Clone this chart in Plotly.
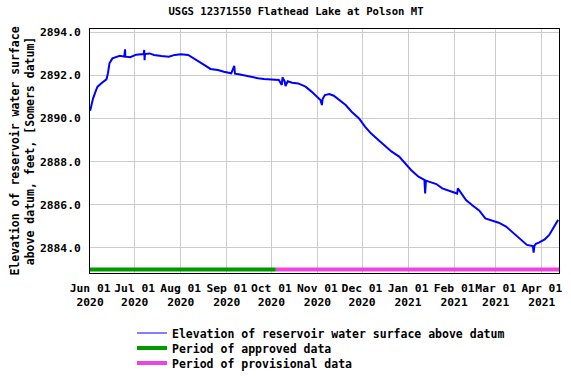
import plotly.graph_objects as go

# ---- data ----
dates = [
    "2020-06-01", "2020-06-03", "2020-06-05", "2020-06-06", "2020-06-09",
    "2020-06-12", "2020-06-13", "2020-06-14", "2020-06-16", "2020-06-19",
    "2020-06-21", "2020-06-24", "2020-06-24T12:00", "2020-06-24T18:00",
    "2020-06-28", "2020-07-02", "2020-07-07", "2020-07-07T10:00",
    "2020-07-07T16:00", "2020-07-07T22:00", "2020-07-11", "2020-07-14",
    "2020-07-19", "2020-07-24", "2020-07-28", "2020-08-01", "2020-08-06",
    "2020-08-10", "2020-08-13", "2020-08-15", "2020-08-17", "2020-08-21",
    "2020-08-26", "2020-08-30", "2020-09-04", "2020-09-06", "2020-09-06T12:00",
    "2020-09-09", "2020-09-13", "2020-09-18", "2020-09-22", "2020-09-26",
    "2020-10-01", "2020-10-06", "2020-10-08", "2020-10-08T12:00",
    "2020-10-10", "2020-10-10T12:00", "2020-10-12", "2020-10-15",
    "2020-10-19", "2020-10-24", "2020-10-28", "2020-11-01", "2020-11-03",
    "2020-11-04", "2020-11-04T12:00", "2020-11-06", "2020-11-09",
    "2020-11-12", "2020-11-15", "2020-11-20", "2020-11-24", "2020-11-29",
    "2020-12-03", "2020-12-07", "2020-12-12", "2020-12-17", "2020-12-21",
    "2020-12-26", "2020-12-30", "2021-01-03", "2021-01-08", "2021-01-12",
    "2021-01-12T12:00", "2021-01-13", "2021-01-15", "2021-01-20",
    "2021-01-24", "2021-01-28", "2021-02-02", "2021-02-03",
    "2021-02-03T12:00", "2021-02-06", "2021-02-09", "2021-02-13",
    "2021-02-18", "2021-02-22", "2021-02-27", "2021-03-03", "2021-03-08",
    "2021-03-12", "2021-03-17", "2021-03-22", "2021-03-26",
    "2021-03-26T12:00", "2021-03-27", "2021-03-28", "2021-03-30",
    "2021-04-03", "2021-04-06", "2021-04-08", "2021-04-11", "2021-04-12",
]
elevation = [
    2890.35, 2890.93, 2891.31, 2891.47, 2891.65,
    2891.81, 2892.09, 2892.55, 2892.78, 2892.86,
    2892.90, 2892.86, 2893.20, 2892.86,
    2892.83, 2892.95, 2892.98, 2893.17,
    2892.70, 2892.98, 2893.01, 2892.94,
    2892.89, 2892.86, 2892.94, 2892.97, 2892.94,
    2892.78, 2892.66, 2892.58, 2892.47, 2892.29,
    2892.24, 2892.16, 2892.09, 2892.43, 2892.07,
    2892.04, 2891.98, 2891.90, 2891.86, 2891.82,
    2891.81, 2891.78, 2891.55, 2891.90,
    2891.70, 2891.50, 2891.72, 2891.65,
    2891.62, 2891.47, 2891.24, 2891.00, 2890.85,
    2890.62, 2890.90, 2891.08, 2891.13,
    2891.05, 2890.88, 2890.62, 2890.31, 2890.00,
    2889.62, 2889.31, 2889.00, 2888.72, 2888.46,
    2888.23, 2887.92, 2887.61, 2887.30, 2887.15,
    2886.53, 2887.12, 2887.07, 2886.96,
    2886.76, 2886.65, 2886.53, 2886.52,
    2886.76, 2886.49, 2886.22, 2885.99,
    2885.73, 2885.37, 2885.25, 2885.17, 2884.99,
    2884.75, 2884.45, 2884.14, 2884.09,
    2883.78, 2884.10, 2884.19, 2884.25,
    2884.40, 2884.60, 2884.83, 2885.14, 2885.30,
]

approved_dates = ["2020-05-31T22:00", "2020-10-04"]
provisional_dates = ["2020-10-04", "2021-04-12T14:00"]
period_level = 2883.0

tick_dates = ["2020-06-01", "2020-07-01", "2020-08-01", "2020-09-01",
              "2020-10-01", "2020-11-01", "2020-12-01", "2021-01-01",
              "2021-02-01", "2021-03-01", "2021-04-01"]
tick_labels = ["Jun 01<br>2020", "Jul 01<br>2020", "Aug 01<br>2020",
               "Sep 01<br>2020", "Oct 01<br>2020", "Nov 01<br>2020",
               "Dec 01<br>2020", "Jan 01<br>2021", "Feb 01<br>2021",
               "Mar 01<br>2021", "Apr 01<br>2021"]
y_ticks = [2884, 2886, 2888, 2890, 2892, 2894]

FONT = "DejaVu Sans Mono"
W, H = 571, 376
L, R, T, B = 90, 12, 29, 103
PW, PH = W - L - R, H - T - B

fig = go.Figure()
fig.add_trace(go.Scatter(
    x=dates, y=elevation, mode="lines",
    line=dict(color="#0000ff", width=2),
    showlegend=False, hoverinfo="x+y",
))
fig.add_trace(go.Scatter(
    x=[None], y=[None], mode="lines",
    line=dict(color="#0000ff", width=1),
    name="Elevation of reservoir water surface above datum",
    legend="legend",
))
fig.add_trace(go.Scatter(
    x=approved_dates, y=[period_level] * len(approved_dates), mode="lines",
    line=dict(color="#009900", width=4),
    name="Period of approved data", legend="legend2",
))
fig.add_trace(go.Scatter(
    x=provisional_dates, y=[period_level] * len(provisional_dates), mode="lines",
    line=dict(color="#ee44dd", width=4),
    name="Period of provisional data", legend="legend3",
))

legend_font = dict(family=FONT, size=11.5, color="black", weight="bold")


def legend_at(row_center_y):
    return dict(
        x=(132 - L) / PW, y=-(row_center_y - (T + PH)) / PH,
        xanchor="left", yanchor="middle",
        bgcolor="rgba(0,0,0,0)", itemwidth=30, borderwidth=0,
        font=legend_font,
    )


fig.update_layout(
    width=W, height=H, autosize=False,
    margin=dict(l=L, r=R, t=T, b=B, autoexpand=False),
    paper_bgcolor="white", plot_bgcolor="white",
    font=dict(family=FONT, size=11.5, color="black", weight="bold"),
    title=dict(
        text="USGS 12371550 Flathead Lake at Polson MT",
        x=296 / W, xanchor="center", xref="container",
        y=1 - 11 / H, yanchor="middle", yref="container",
        font=dict(family=FONT, size=10.6, color="black", weight="bold"),
    ),
    showlegend=True,
    legend=legend_at(333),
    legend2=legend_at(348),
    legend3=legend_at(363),
    xaxis=dict(
        type="date", automargin=False,
        range=["2020-05-31T22:00", "2021-04-12T14:00"],
        tickvals=tick_dates, ticktext=tick_labels, tickangle=0,
        showgrid=True, gridcolor="#cccccc", gridwidth=1,
        showline=True, linecolor="black", linewidth=1, mirror=True,
        ticks="", zeroline=False, ticklabelstandoff=4,
        tickfont=dict(family=FONT, size=11.3, color="black", weight="bold"),
    ),
    yaxis=dict(
        automargin=False,
        range=[2882.84, 2894.14],
        tickvals=y_ticks, tickformat=".1f",
        showgrid=True, gridcolor="#cccccc", gridwidth=1,
        showline=True, linecolor="black", linewidth=1, mirror=True,
        ticks="", zeroline=False, ticklabelstandoff=6,
        tickfont=dict(family=FONT, size=11.3, color="black", weight="bold"),
        title=dict(
            text="Elevation of reservoir water surface<br>above datum, feet, [Somers datum]",
            standoff=2,
            font=dict(family=FONT, size=11.5, color="black", weight="bold"),
        ),
    ),
)

fig.write_html(
    "out.html",
    config={"displayModeBar": False},
    post_script="document.body.style.margin='0px';document.body.style.overflow='hidden';",
)
